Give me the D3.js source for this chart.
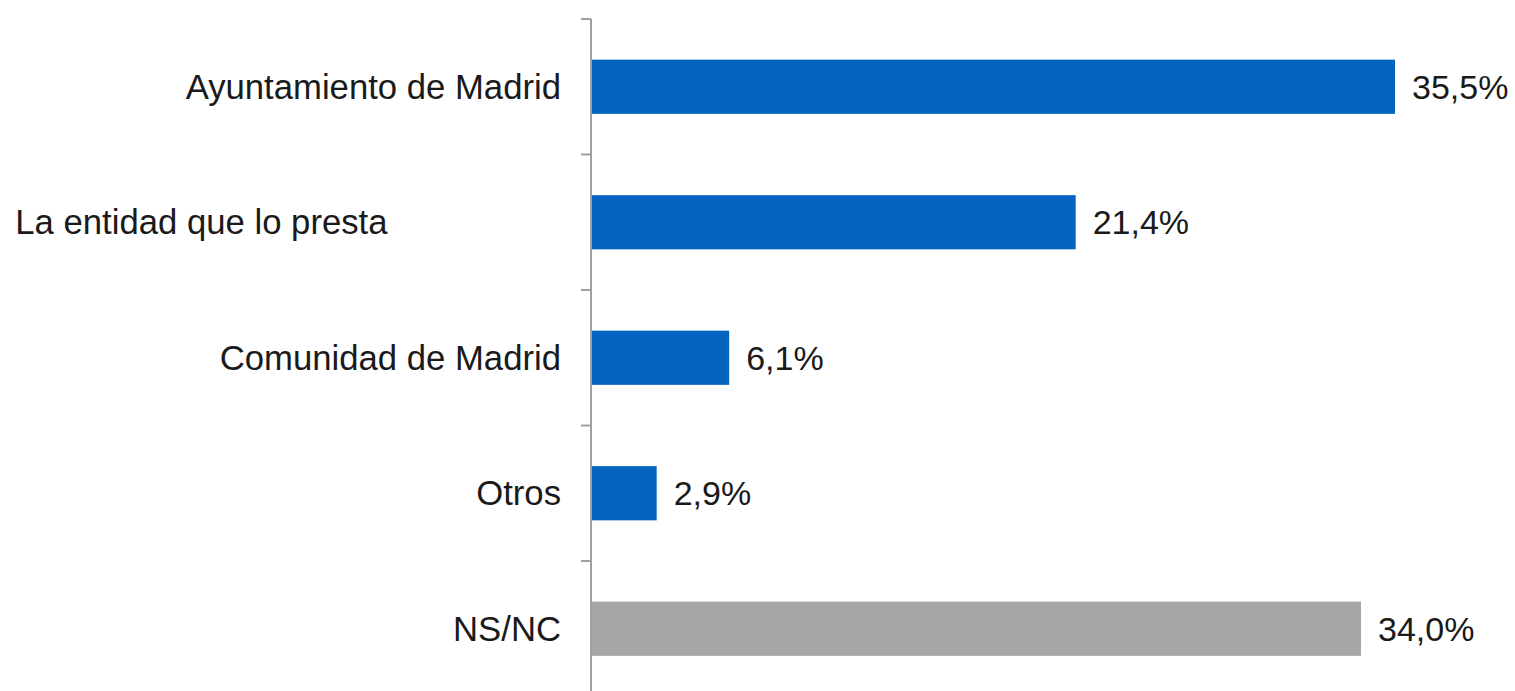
<!DOCTYPE html>
<html>
<head>
<meta charset="utf-8">
<script src="https://cdn.jsdelivr.net/npm/d3@7"></script>
<style>
  body { margin: 0; background: #fff; }
  svg { display: block; }
  .cat-label, .value-label { font-family: "Liberation Sans", Arial, sans-serif; fill: #1a1a1a; white-space: pre; }
  .cat-label { font-size: 34.7px; }
  .value-label { font-size: 34px; }
</style>
</head>
<body>
<div id="chart"></div>
<script>
  // data (second label keeps the trailing blanks of the source sheet)
  var categories = ["Ayuntamiento de Madrid", "La entidad que lo presta                  ", "Comunidad de Madrid", "Otros", "NS/NC"];
  var values = [35.5, 21.4, 6.1, 2.9, 34.0];
  var barColors = ["#0563C0", "#0563C0", "#0563C0", "#0563C0", "#A6A6A6"];

  var width = 1515, height = 691;
  var margin = { top: 19, left: 591 };

  var svg = d3.select("#chart").append("svg")
    .attr("width", width)
    .attr("height", height);

  var x = d3.scaleLinear()
    .domain([0, 35.5])
    .range([margin.left, margin.left + 804]);

  var y = d3.scaleBand()
    .domain(categories)
    .range([margin.top, margin.top + 5 * 135.5])
    .paddingInner(0.6)
    .paddingOuter(0.3);

  var rows = categories.map(function (c, i) {
    return { cat: c, value: values[i], color: barColors[i] };
  });

  svg.selectAll(".bar")
    .data(rows)
    .enter()
    .append("rect")
    .attr("class", "bar")
    .attr("x", x(0))
    .attr("y", function (d) { return y(d.cat); })
    .attr("width", function (d) { return x(d.value) - x(0); })
    .attr("height", y.bandwidth())
    .attr("fill", function (d) { return d.color; });

  // axis line with ticks at band boundaries
  var step = y.step();
  var tickYs = d3.range(categories.length + 1).map(function (i) { return margin.top + i * step; });

  svg.append("line")
    .attr("x1", x(0)).attr("x2", x(0))
    .attr("y1", margin.top).attr("y2", height)
    .attr("stroke", "#a0a0a0")
    .attr("stroke-width", 2);

  svg.selectAll(".tick")
    .data(tickYs)
    .enter()
    .append("line")
    .attr("class", "tick")
    .attr("x1", x(0) - 10).attr("x2", x(0))
    .attr("y1", function (d) { return d; })
    .attr("y2", function (d) { return d; })
    .attr("stroke", "#a0a0a0")
    .attr("stroke-width", 2);

  svg.selectAll(".cat-label")
    .data(rows)
    .enter()
    .append("text")
    .attr("class", "cat-label")
    .attr("xml:space", "preserve")
    .attr("x", x(0) - 30)
    .attr("y", function (d) { return y(d.cat) + y.bandwidth() / 2; })
    .attr("dy", ".35em")
    .style("text-anchor", "end")
    .text(function (d) { return d.cat; });

  svg.selectAll(".value-label")
    .data(rows)
    .enter()
    .append("text")
    .attr("class", "value-label")
    .attr("x", function (d) { return x(d.value) + 17; })
    .attr("y", function (d) { return y(d.cat) + y.bandwidth() / 2; })
    .attr("dy", ".35em")
    .text(function (d) { return d.value.toFixed(1).replace(".", ",") + "%"; });
</script>
</body>
</html>
